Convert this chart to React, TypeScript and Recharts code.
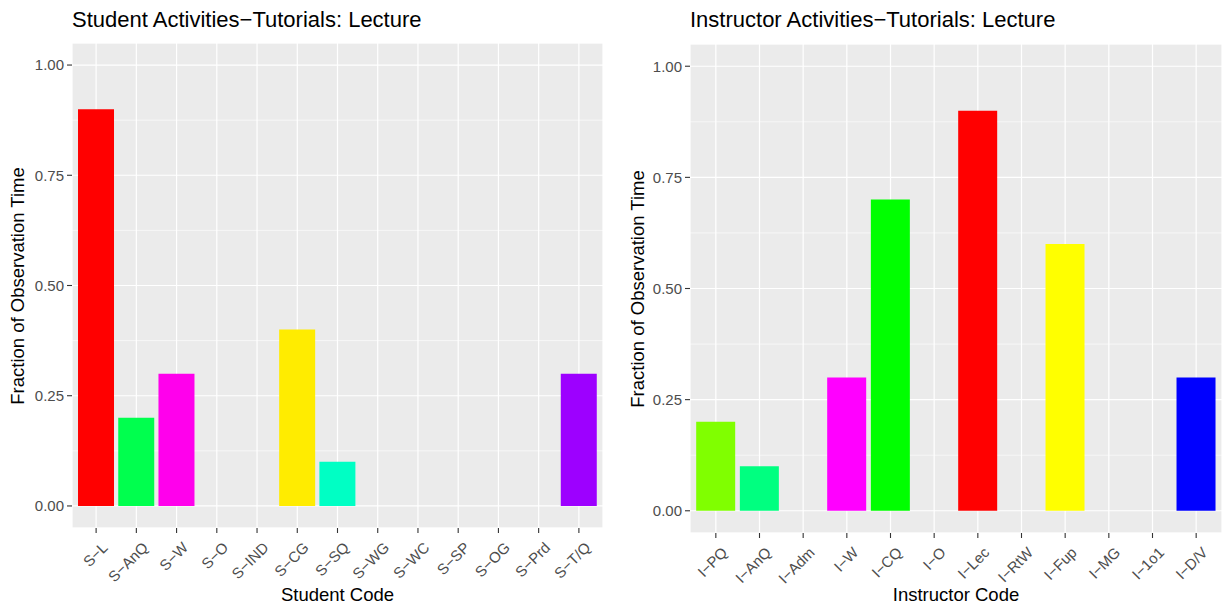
import { BarChart, Bar, Cell, XAxis, YAxis, CartesianGrid } from "recharts";

const studentCodes = ["S−L", "S−AnQ", "S−W", "S−O", "S−IND", "S−CG", "S−SQ", "S−WG", "S−WC", "S−SP", "S−OG", "S−Prd", "S−T/Q"];
const studentValues = [0.9, 0.2, 0.3, 0, 0, 0.4, 0.1, 0, 0, 0, 0, 0, 0.3];
const studentColors = ["#FF0000", "#00FF4E", "#FF00EC", "#FF7600", "#9DFF00", "#FFEC00", "#00FFC4", "#00C4FF", "#004EFF", "#2700FF", "#27FF00", "#FF0076", "#9D00FF"];

const instructorCodes = ["I−PQ", "I−AnQ", "I−Adm", "I−W", "I−CQ", "I−O", "I−Lec", "I−RtW", "I−Fup", "I−MG", "I−1o1", "I−D/V"];
const instructorValues = [0.2, 0.1, 0, 0.3, 0.7, 0, 0.9, 0, 0.6, 0, 0, 0.3];
const instructorColors = ["#80FF00", "#00FF80", "#FF8000", "#FF00FF", "#00FF00", "#00FFFF", "#FF0000", "#0080FF", "#FFFF00", "#8000FF", "#FF0080", "#0000FF"];

const majorTicks = [0, 0.25, 0.5, 0.75, 1];
const minorTicks = [0.125, 0.375, 0.625, 0.875];

const FONT = "'Liberation Sans', Arial, sans-serif";

const AngledTick = (props: any) => {
  const { x, y, payload } = props;
  return (
    <g transform={`translate(${x + 5},${y + 6}) rotate(-45)`}>
      <text textAnchor="end" dy="0.71em" fill="#4D4D4D" fontSize={15} fontFamily={FONT}>
        {payload.value}
      </text>
    </g>
  );
};

type PanelProps = {
  codes: string[];
  values: number[];
  colors: string[];
  title: string;
  xTitle: string;
  left: number;
  yTitleX: number;
  margin: { top: number; right: number; left: number; bottom: number };
  xHeight: number;
  pad: number;
};

const Panel = ({ codes, values, colors, title, xTitle, left, yTitleX, margin, xHeight, pad }: PanelProps) => {
  const data = codes.map((code, i) => ({ code, value: values[i] }));
  const plotLeft = margin.left + 60;
  const plotRight = 612 - margin.right;
  return (
    <div style={{ position: "absolute", left, top: 0, width: 612, height: 604, fontFamily: FONT }}>
      <div style={{ position: "absolute", left: plotLeft, top: 7, fontSize: 22, color: "#000", whiteSpace: "nowrap" }}>{title}</div>
      <div
        style={{
          position: "absolute",
          left: yTitleX,
          top: (margin.top + 604 - margin.bottom - xHeight) / 2,
          fontSize: 18.5,
          whiteSpace: "nowrap",
          transform: "translate(-50%, -50%) rotate(-90deg)",
        }}
      >
        Fraction of Observation Time
      </div>
      <div
        style={{
          position: "absolute",
          left: (plotLeft + plotRight) / 2,
          top: 584,
          fontSize: 18.5,
          whiteSpace: "nowrap",
          transform: "translateX(-50%)",
        }}
      >
        {xTitle}
      </div>
      <BarChart width={612} height={604} data={data} margin={margin} barCategoryGap="5%">
        <CartesianGrid yAxisId="minor" fill="#EBEBEB" stroke="#FFFFFF" strokeWidth={0.6} vertical={false} />
        <CartesianGrid stroke="#FFFFFF" strokeWidth={1.2} />
        <XAxis
          dataKey="code"
          interval={0}
          axisLine={false}
          tickSize={5}
          tickLine={{ stroke: "#333333", strokeWidth: 1.1 }}
          tick={<AngledTick />}
          height={xHeight}
          padding={{ left: pad, right: pad }}
        />
        <YAxis
          width={60}
          domain={[-0.05, 1.05]}
          ticks={majorTicks}
          allowDataOverflow
          axisLine={false}
          tickSize={5}
          tickMargin={3}
          tickLine={{ stroke: "#333333", strokeWidth: 1.1 }}
          tick={{ fill: "#4D4D4D", fontSize: 15, fontFamily: FONT }}
          tickFormatter={(v: number) => v.toFixed(2)}
        />
        <YAxis yAxisId="minor" hide domain={[-0.05, 1.05]} ticks={minorTicks} allowDataOverflow />
        <Bar dataKey="value" isAnimationActive={false}>
          {data.map((d, i) => (
            <Cell key={d.code} fill={colors[i]} />
          ))}
        </Bar>
      </BarChart>
    </div>
  );
}

export default function App() {
  return (
    <div style={{ position: "absolute", left: 0, top: 0, width: 1224, height: 604, background: "#FFFFFF" }}>
      <Panel
        codes={studentCodes}
        values={studentValues}
        colors={studentColors}
        title="Student Activities−Tutorials: Lecture"
        xTitle="Student Code"
        left={0}
        yTitleX={18}
        margin={{ top: 43, right: 9, left: 12, bottom: 6 }}
        xHeight={70}
        pad={4}
      />
      <Panel
        codes={instructorCodes}
        values={instructorValues}
        colors={instructorColors}
        title="Instructor Activities−Tutorials: Lecture"
        xTitle="Instructor Code"
        left={612}
        yTitleX={26}
        margin={{ top: 44, right: 2, left: 18, bottom: 6 }}
        xHeight={65}
        pad={4}
      />
    </div>
  );
}
